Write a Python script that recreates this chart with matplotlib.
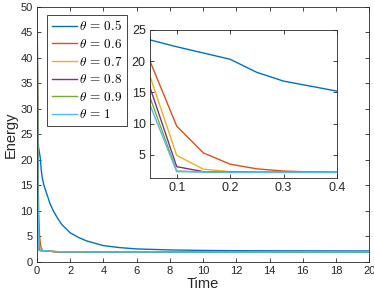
import matplotlib
matplotlib.use("Agg")
import matplotlib.pyplot as plt

plt.rcParams['font.family'] = ['Liberation Sans', 'DejaVu Sans']
plt.rcParams['mathtext.fontset'] = 'cm'

# ---- data ----
time = [0, 0.05, 0.1, 0.15, 0.2, 0.25, 0.3, 0.35, 0.4, 0.6, 0.8, 1.0, 1.25,
        1.5, 2, 2.5, 3, 4, 5, 6, 8, 10, 12, 15, 20]

thetas = ['0.5', '0.6', '0.7', '0.8', '0.9', '1']

energy_05 = [55, 23.4, 22.3, 21.3, 20.3, 18.2, 16.8, 16.0, 15.2, 13.2, 11.3, 9.9, 8.5,
             7.3, 5.7, 4.8, 4.1, 3.2, 2.8, 2.55, 2.35, 2.25, 2.2, 2.17, 2.15]
energy_06 = [55, 20.0, 9.6, 5.3, 3.5, 2.75, 2.4, 2.25, 2.2, 2.15, 2.1, 2.0, 1.95,
             1.92, 1.9, 1.9, 1.9, 1.9, 1.9, 1.9, 1.9, 1.9, 1.9, 1.9, 1.9]
energy_07 = [55, 17.6, 4.9, 2.7, 2.3, 2.2, 2.2, 2.2, 2.2, 2.15, 2.1, 2.0, 1.95,
             1.92, 1.9, 1.9, 1.88, 1.88, 1.88, 1.88, 1.88, 1.88, 1.88, 1.88, 1.88]
energy_08 = [55, 15.8, 3.1, 2.3, 2.25, 2.2, 2.2, 2.2, 2.2, 2.15, 2.1, 2.05, 2.0,
             2.0, 1.98, 1.97, 1.96, 1.95, 1.95, 1.95, 1.95, 1.95, 1.95, 1.95, 1.95]
energy_09 = [55, 14.2, 2.4, 2.25, 2.2, 2.2, 2.2, 2.2, 2.2, 2.15, 2.1, 2.05, 2.0,
             2.0, 1.98, 1.97, 1.96, 1.95, 1.95, 1.95, 1.95, 1.95, 1.95, 1.95, 1.95]
energy_10 = [55, 13.0, 2.3, 2.25, 2.2, 2.2, 2.2, 2.2, 2.2, 2.15, 2.1, 2.05, 2.0,
             2.0, 1.98, 1.97, 1.96, 1.95, 1.95, 1.95, 1.95, 1.95, 1.95, 1.95, 1.95]

series = [energy_05, energy_06, energy_07, energy_08, energy_09, energy_10]
colors = ['#0072BD', '#D95319', '#EDB120', '#7E2F8E', '#77AC30', '#4DBEEE']

axis_col = '#262626'


def style_axes(ax, fs):
    for s in ax.spines.values():
        s.set_linewidth(0.6)
        s.set_color(axis_col)
    ax.tick_params(direction='in', length=3, width=0.6, colors=axis_col,
                   labelsize=fs, top=True, right=True, pad=3)


fig = plt.figure(figsize=(3.74, 2.99), dpi=100)

# main axes
ax = fig.add_axes([0.099, 0.124, 0.888, 0.853])
for vals, c, th in zip(series, colors, thetas):
    ax.plot(time, vals, color=c, lw=1.0, label=r'$\theta\,=\,%s$' % th)
ax.set_xlim(0, 20)
ax.set_ylim(0, 50)
ax.set_xticks(range(0, 21, 2))
ax.set_yticks(range(0, 51, 5))
style_axes(ax, 8)
ax.set_xlabel('Time', fontsize=10.5, color=axis_col, labelpad=1)
ax.set_ylabel('Energy', fontsize=10.5, color=axis_col, labelpad=2)

leg = ax.legend(loc='upper left', bbox_to_anchor=(0.03, 0.969), borderaxespad=0,
                fontsize=9.5, handlelength=1.9, handletextpad=0.15,
                labelspacing=0.35, borderpad=0.35, fancybox=False, framealpha=1)
leg.get_frame().set_edgecolor(axis_col)
leg.get_frame().set_linewidth(0.6)

# inset
ins = fig.add_axes([0.401, 0.405, 0.500, 0.495])
for vals, c in zip(series, colors):
    ins.plot(time, vals, color=c, lw=1.0)
ins.set_xlim(0.05, 0.4)
ins.set_ylim(1.3, 25)
ins.set_xticks([0.1, 0.2, 0.3, 0.4])
ins.set_yticks([5, 10, 15, 20, 25])
style_axes(ins, 9)

fig.savefig('out.png', dpi=100)
